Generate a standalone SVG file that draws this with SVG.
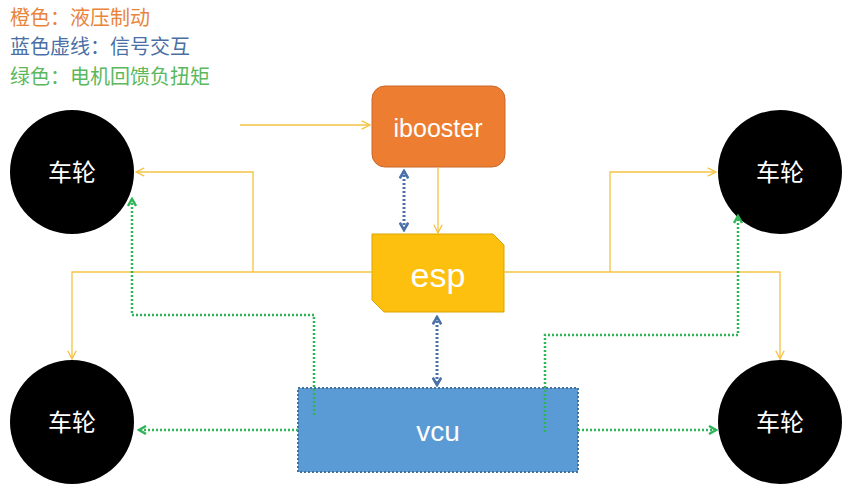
<svg xmlns="http://www.w3.org/2000/svg" width="852" height="495" viewBox="0 0 852 495">
<defs>
<style>
.lg{font-family:"Noto Sans CJK SC","Liberation Serif",serif;font-size:20px}
.w{fill:#000}
.wt{font-family:"Noto Sans CJK SC",sans-serif;font-size:24px;fill:#fff;text-anchor:middle}
.nt{font-family:"Liberation Sans",Arial,sans-serif;fill:#fff;text-anchor:middle}
.y{fill:none;stroke:#f5c343;stroke-width:1.3}
.g{fill:none;stroke:#2fb457;stroke-width:2.5;stroke-dasharray:2 2}
.b{fill:none;stroke:#4a72a8;stroke-width:3;stroke-dasharray:2 2}
</style>
<marker id="ay" viewBox="0 0 10 10" refX="9" refY="5" markerWidth="8" markerHeight="8" orient="auto-start-reverse"><path d="M1,1L9,5L1,9" fill="none" stroke="#f5c343" stroke-width="1.3"/></marker>
<marker id="ag" viewBox="0 0 10 10" refX="8" refY="5" markerWidth="4" markerHeight="4" orient="auto-start-reverse"><path d="M1,1L8,5L1,9" fill="none" stroke="#2fb457" stroke-width="2.5"/></marker>
<marker id="ab" viewBox="0 0 10 10" refX="8" refY="5" markerWidth="3.5" markerHeight="3.5" orient="auto-start-reverse"><path d="M1,1L8,5L1,9" fill="none" stroke="#4a72a8" stroke-width="2.5"/></marker>
</defs>
<rect width="852" height="495" fill="#fff"/>
<text class="lg" x="10" y="25" fill="#e9843a">橙色：液压制动</text>
<text class="lg" x="10" y="54" fill="#4a6fa5">蓝色虚线：信号交互</text>
<text class="lg" x="10" y="84" fill="#5cb85c">绿色：电机回馈负扭矩</text>
<g id="wheel-tl"><circle class="w" cx="72" cy="172" r="62"/><text class="wt" x="72" y="181">车轮</text></g>
<g id="wheel-bl"><circle class="w" cx="72" cy="422" r="62"/><text class="wt" x="72" y="431">车轮</text></g>
<g id="wheel-tr"><circle class="w" cx="780" cy="172" r="62"/><text class="wt" x="780" y="181">车轮</text></g>
<g id="wheel-br"><circle class="w" cx="780" cy="422" r="62"/><text class="wt" x="780" y="431">车轮</text></g>
<g id="ibooster"><rect x="372" y="86" width="133" height="81" rx="13" fill="#ed7d31" stroke="#c8682a"/><text class="nt" x="438" y="137" font-size="25">ibooster</text></g>
<g id="esp"><path d="M372,234H493L504,245V312H384L372,300Z" fill="#fdc00f" stroke="#d9a300"/><text class="nt" x="438" y="287" font-size="34">esp</text></g>
<g id="vcu"><rect x="298" y="388" width="280" height="84" fill="#5b9bd5" stroke="#41719c" stroke-width="2" stroke-dasharray="2 2"/><text class="nt" x="438" y="441" font-size="28">vcu</text></g>
<g id="connectors">
<path class="y" d="M240,125H370" marker-end="url(#ay)"/>
<path class="y" d="M438,167V233" marker-end="url(#ay)"/>
<path class="y" d="M372,272H72V359" marker-end="url(#ay)"/>
<path class="y" d="M253,272V172H136" marker-end="url(#ay)"/>
<path class="y" d="M504,272H780V359" marker-end="url(#ay)"/>
<path class="y" d="M610,272V172H716" marker-end="url(#ay)"/>
<path class="b" d="M404,171V230" marker-start="url(#ab)" marker-end="url(#ab)"/>
<path class="b" d="M437,317V385" marker-start="url(#ab)" marker-end="url(#ab)"/>
<path class="g" d="M314,415V315H132V199" marker-end="url(#ag)"/>
<path class="g" d="M298,430H139" marker-end="url(#ag)"/>
<path class="g" d="M545,432V335H738V216" marker-end="url(#ag)"/>
<path class="g" d="M578,430H716" marker-end="url(#ag)"/>
</g>
</svg>
